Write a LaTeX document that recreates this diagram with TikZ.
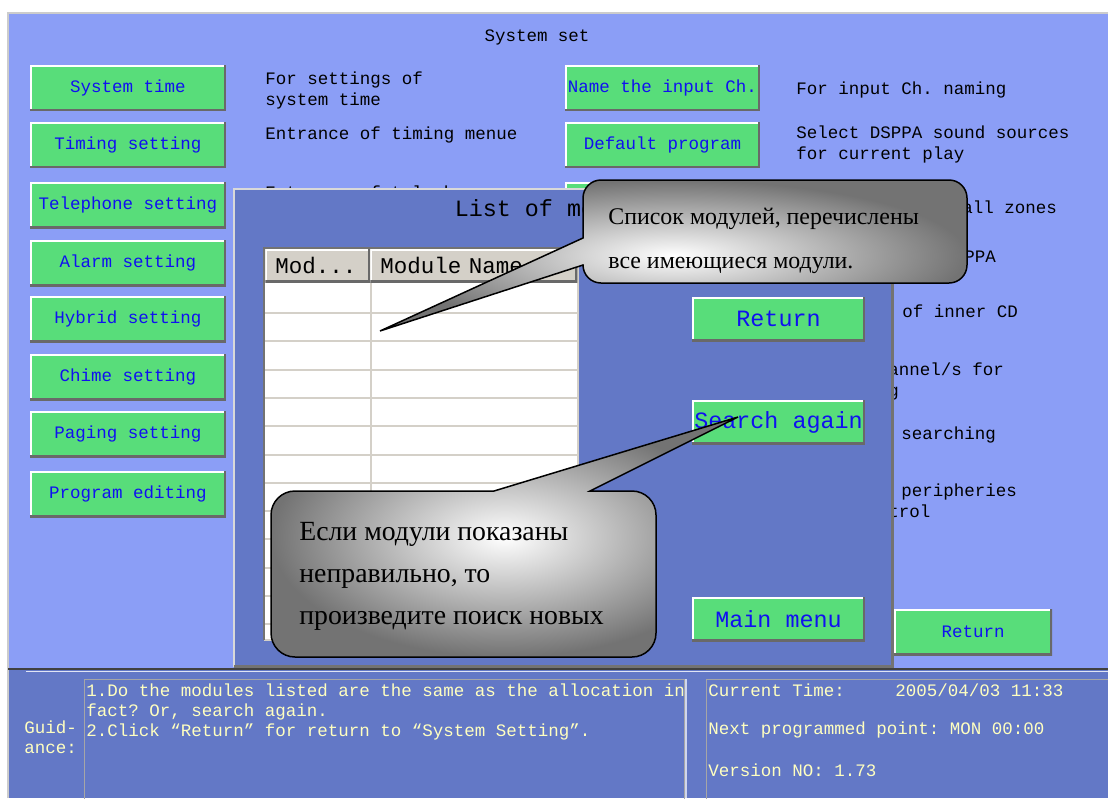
\documentclass[tikz,border=0pt]{standalone}
\usepackage{fontspec}
\setmainfont{Liberation Serif}
\setmonofont{Liberation Mono}
\usetikzlibrary{calc}
\definecolor{panelblue}{RGB}{139,158,246}
\definecolor{dlgblue}{RGB}{99,120,198}
\definecolor{btngreen}{RGB}{88,221,122}
\definecolor{btntext}{RGB}{16,16,240}
\definecolor{guidetext}{RGB}{255,255,192}
\definecolor{hdrgray}{RGB}{212,208,200}
\definecolor{edgegray}{RGB}{105,105,105}
\newcommand{\monosmall}{\ttfamily\fontsize{9.96}{11.95}\selectfont}
\newcommand{\monoguide}{\ttfamily\fontsize{9.96}{11.4}\selectfont}
\newcommand{\monobig}{\ttfamily\fontsize{13.3}{15}\selectfont}
\newcommand{\monohdr}{\ttfamily\fontsize{12.8}{15}\selectfont}
\newcommand{\bubblefont}{\rmfamily\fontsize{13.6}{25}\selectfont}
\newcommand{\bubblebig}{\rmfamily\fontsize{15.8}{23.9}\selectfont}

\begin{document}
\begin{tikzpicture}[
    x=0.02cm, y=-0.02cm,
    bevel/.style={path picture={
        \draw[white, line width=0.08cm] (path picture bounding box.south west) |- (path picture bounding box.north east);
        \draw[edgegray, line width=0.08cm] (path picture bounding box.south west) -| (path picture bounding box.north east);}},
    btn/.style={bevel, fill=btngreen, text=btntext, font=\monosmall, inner sep=0pt, minimum width=3.92cm, minimum height=0.92cm},
    bigbtn/.style={btn, font=\monobig, minimum width=3.46cm, minimum height=0.88cm},
    desc/.style={anchor=west, inner sep=0pt, font=\monosmall, align=left},
    guide/.style={anchor=west, inner sep=0pt, font=\monoguide, text=guidetext, align=left},
    hdrcell/.style={bevel, fill=hdrgray, anchor=north west, inner ysep=0pt, inner xsep=0.2cm, minimum height=0.66cm, font=\monohdr, align=left},
    bubble/.style={draw=black, line width=0.03cm, inner color=white, outer color=gray!90!black},
    bubbletext/.style={anchor=west, inner sep=0pt, align=left}
]
\useasboundingbox (0,0) rectangle (1108,798);

% Screen
\fill[white] (0,0) rectangle (1108,798);
\fill[panelblue] (9,13) rectangle (1108,668);
\draw[black!20, line width=0.04cm] (8,798) -- (8,13) -- (1108,13);
\draw[black!75, line width=0.04cm] (8,669) -- (1108,669);
\node[font=\monosmall] (title) at (537,37) {System set};

% Left column
\foreach \lbl/\yy [count=\i] in {System time/88, Timing setting/145, Telephone setting/205, Alarm setting/263,
    Hybrid setting/319, Chime setting/377, Paging setting/434, Program editing/494}
  \node[btn] (lbtn\i) at (128,\yy) {\lbl};

\node[desc] (dsystime) at (265,90.5) {For settings of\\system time};
\node[desc] (dtiming) at (265,135) {Entrance of timing menue};
\node[desc] (dphone) at (265,194) {Entrance of telephone};

% Right column
\node[btn, minimum width=3.9cm] (rbtnname) at (662.5,88) {Name the input Ch.};
\node[btn, minimum width=3.9cm] (rbtndefault) at (662.5,145) {Default program};
\node[btn, minimum width=3.9cm] (rbtnzones) at (662.5,205) {};

\node[desc] (dname) at (796,90) {For input Ch. naming};
\node[desc] (ddefault) at (796,144.5) {Select DSPPA sound sources\\for current play};
\node[desc] (dzones) at (962,207) {all zones};
\node[desc] (ddsppa) at (943,257) {DSPPA};
\node[desc] (dcd) at (902,311) {of inner CD};
\node[desc] (dchannel) at (888,381.5) {annel/s for\\g};
\node[desc] (dsearch) at (901,435) {searching};
\node[desc] (dperiph) at (901,492) {peripheries};
\node[desc] (dcontrol) at (888,511) {trol};

\node[btn, minimum width=3.16cm] (btnback) at (973,632) {Return};

% Status panel
\fill[dlgblue] (9,670) rectangle (1108,798);
\draw[white!80!dlgblue, line width=0.03cm] (26,671.5) -- (1108,671.5);
\draw[black!35, line width=0.02cm] (84,679) rectangle (684,800);
\draw[white!70!dlgblue, line width=0.03cm] (686,679) -- (686,798);
\draw[black!35, line width=0.02cm] (706,679) rectangle (1110,800);

\node[guide] (guidlbl) at (24,737) {Guid-\\ance:};
\node[guide] (guidtxt) at (86,712) {1.Do the modules listed are the same as the allocation in\\fact? Or, search again.\\2.Click “Return” for return to “System Setting”.};
\node[guide] (curtime) at (708,690) {Current Time:};
\node[guide] (curdate) at (895,690) {2005/04/03 11:33};
\node[guide] (nextpoint) at (708,730) {Next programmed point: MON 00:00};
\node[guide] (version) at (708,770) {Version NO: 1.73};

% Module list dialog
\fill[dlgblue] (233,188) rectangle (893,667);
\draw[white!85!black, line width=0.04cm] (234,667) -- (234,189) -- (892,189);
\draw[black!55, line width=0.06cm] (234,666) -- (892,666) -- (892,189);
\node[font=\monobig] (dlgtitle) at (560,208) {List of modules};

% Table
\fill[white] (265,249) rectangle (577,640);
\foreach \k in {0,...,11}
  \draw[hdrgray, line width=0.04cm] (265,{313+28.3*\k}) -- (577,{313+28.3*\k});
\draw[hdrgray, line width=0.04cm] (371,283) -- (371,640);
\draw[hdrgray, line width=0.04cm] (264,640) -- (578,640) -- (578,248);
\draw[black!55, line width=0.04cm] (264,640) -- (264,248) -- (578,248);
\node[hdrcell, text width=1.7cm] (hdrno) at (265,249) {Mod...};
\node[hdrcell, text width=3.74cm] (hdrname) at (370,249) {Module Name};

\node[bigbtn] (btnreturn) at (778.5,319) {Return};
\node[bigbtn] (btnsearch) at (778.5,422) {Search again};
\node[bigbtn] (btnmain) at (778.5,619) {Main menu};

% Callouts
\path[bubble] (380,331) -- (583,238) -- (583,198) arc[start angle=180, end angle=270, radius=18]
  -- (949,180) arc[start angle=270, end angle=360, radius=18]
  -- (967,265) arc[start angle=0, end angle=90, radius=18]
  -- (601,283) arc[start angle=90, end angle=180, radius=18] -- cycle;
\node[bubbletext, font=\bubblefont] (notelist) at (608,241) {Список модулей, перечислены\\все имеющиеся модули.};

\path[bubble] (738,417) -- (590,491) -- (632,491) arc[start angle=270, end angle=360, radius=24]
  -- (656,633) arc[start angle=0, end angle=90, radius=24]
  -- (295,657) arc[start angle=90, end angle=180, radius=24]
  -- (271,515) arc[start angle=180, end angle=270, radius=24] -- (494,491) -- cycle;
\node[bubbletext, font=\bubblebig] (notesearch) at (299,576) {Если модули показаны\\неправильно, то\\произведите поиск новых};

\end{tikzpicture}
\end{document}
